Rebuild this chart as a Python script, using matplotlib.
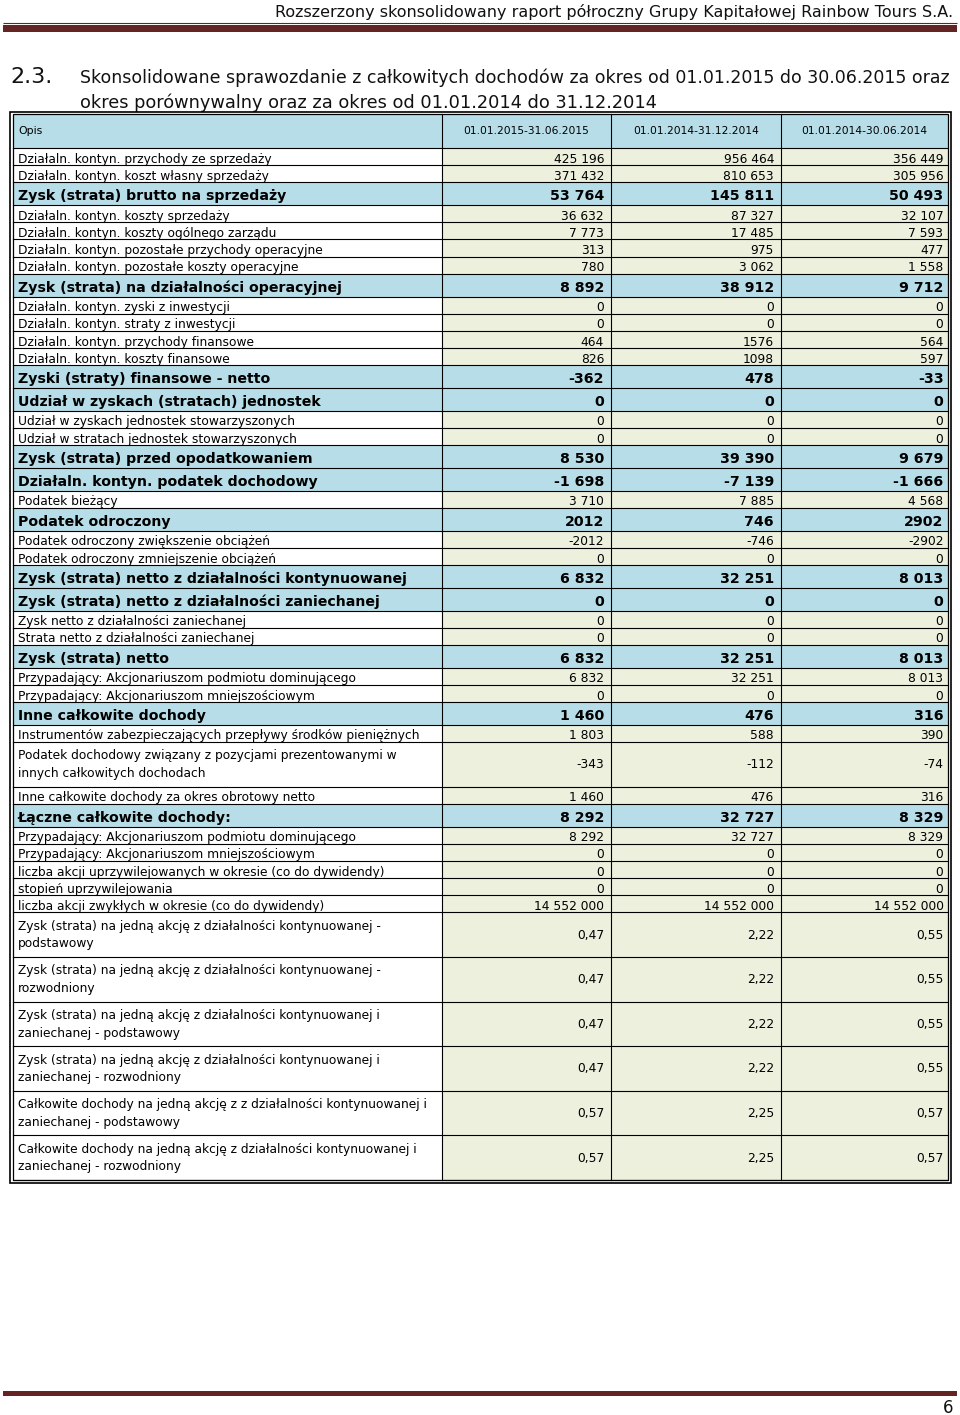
import matplotlib
matplotlib.use("Agg")
import matplotlib.pyplot as plt
from matplotlib.patches import Rectangle

# --- data ---
header_note = "Rozszerzony skonsolidowany raport półroczny Grupy Kapitałowej Rainbow Tours S.A."
section_no = "2.3."
title_lines = ["Skonsolidowane sprawozdanie z całkowitych dochodów za okres od 01.01.2015 do 30.06.2015 oraz",
               "okres porównywalny oraz za okres od 01.01.2014 do 31.12.2014"]
page_no = "6"

col_header = ["Opis", "01.01.2015-31.06.2015", "01.01.2014-31.12.2014", "01.01.2014-30.06.2014"]

labels = [
    "Działaln. kontyn. przychody ze sprzedaży",
    "Działaln. kontyn. koszt własny sprzedaży",
    "Zysk (strata) brutto na sprzedaży",
    "Działaln. kontyn. koszty sprzedaży",
    "Działaln. kontyn. koszty ogólnego zarządu",
    "Działaln. kontyn. pozostałe przychody operacyjne",
    "Działaln. kontyn. pozostałe koszty operacyjne",
    "Zysk (strata) na działalności operacyjnej",
    "Działaln. kontyn. zyski z inwestycji",
    "Działaln. kontyn. straty z inwestycji",
    "Działaln. kontyn. przychody finansowe",
    "Działaln. kontyn. koszty finansowe",
    "Zyski (straty) finansowe - netto",
    "Udział w zyskach (stratach) jednostek",
    "Udział w zyskach jednostek stowarzyszonych",
    "Udział w stratach jednostek stowarzyszonych",
    "Zysk (strata) przed opodatkowaniem",
    "Działaln. kontyn. podatek dochodowy",
    "Podatek bieżący",
    "Podatek odroczony",
    "Podatek odroczony zwiększenie obciążeń",
    "Podatek odroczony zmniejszenie obciążeń",
    "Zysk (strata) netto z działalności kontynuowanej",
    "Zysk (strata) netto z działalności zaniechanej",
    "Zysk netto z działalności zaniechanej",
    "Strata netto z działalności zaniechanej",
    "Zysk (strata) netto",
    "Przypadający: Akcjonariuszom podmiotu dominującego",
    "Przypadający: Akcjonariuszom mniejszościowym",
    "Inne całkowite dochody",
    "Instrumentów zabezpieczających przepływy środków pieniężnych",
    "Podatek dochodowy związany z pozycjami prezentowanymi w\ninnych całkowitych dochodach",
    "Inne całkowite dochody za okres obrotowy netto",
    "Łączne całkowite dochody:",
    "Przypadający: Akcjonariuszom podmiotu dominującego",
    "Przypadający: Akcjonariuszom mniejszościowym",
    "liczba akcji uprzywilejowanych w okresie (co do dywidendy)",
    "stopień uprzywilejowania",
    "liczba akcji zwykłych w okresie (co do dywidendy)",
    "Zysk (strata) na jedną akcję z działalności kontynuowanej -\npodstawowy",
    "Zysk (strata) na jedną akcję z działalności kontynuowanej -\nrozwodniony",
    "Zysk (strata) na jedną akcję z działalności kontynuowanej i\nzaniechanej - podstawowy",
    "Zysk (strata) na jedną akcję z działalności kontynuowanej i\nzaniechanej - rozwodniony",
    "Całkowite dochody na jedną akcję z z działalności kontynuowanej i\nzaniechanej - podstawowy",
    "Całkowite dochody na jedną akcję z działalności kontynuowanej i\nzaniechanej - rozwodniony",
]

bold_rows = [3, 8, 13, 14, 17, 18, 20, 23, 24, 27, 30, 34]  # 1-based

h1_2015 = ["425 196", "371 432", "53 764", "36 632", "7 773", "313", "780", "8 892",
           "0", "0", "464", "826", "-362", "0", "0", "0", "8 530", "-1 698",
           "3 710", "2012", "-2012", "0", "6 832", "0", "0", "0", "6 832", "6 832", "0",
           "1 460", "1 803", "-343", "1 460", "8 292", "8 292", "0", "0", "0", "14 552 000",
           "0,47", "0,47", "0,47", "0,47", "0,57", "0,57"]
y_2014 = ["956 464", "810 653", "145 811", "87 327", "17 485", "975", "3 062", "38 912",
          "0", "0", "1576", "1098", "478", "0", "0", "0", "39 390", "-7 139",
          "7 885", "746", "-746", "0", "32 251", "0", "0", "0", "32 251", "32 251", "0",
          "476", "588", "-112", "476", "32 727", "32 727", "0", "0", "0", "14 552 000",
          "2,22", "2,22", "2,22", "2,22", "2,25", "2,25"]
h1_2014 = ["356 449", "305 956", "50 493", "32 107", "7 593", "477", "1 558", "9 712",
           "0", "0", "564", "597", "-33", "0", "0", "0", "9 679", "-1 666",
           "4 568", "2902", "-2902", "0", "8 013", "0", "0", "0", "8 013", "8 013", "0",
           "316", "390", "-74", "316", "8 329", "8 329", "0", "0", "0", "14 552 000",
           "0,55", "0,55", "0,55", "0,55", "0,57", "0,57"]

# --- style / layout ---
BLUE = "#b7dee8"
GREEN = "#ecf0dd"
MAROON = "#632523"
NARROW = ["Liberation Sans Narrow", "DejaVu Sans"]
TABLE_FONT = ["DejaVu Sans"]
fs_norm = 8.8
fs_bold = 10.2

W, H = 960, 1415
col_x = [12.5, 442, 611, 781, 947.5]
top_y, head_h = 114, 34
h_norm, h_bold, h_two = 17.16, 22.8, 44.6

fig = plt.figure(figsize=(W / 100, H / 100), dpi=100)
ax = fig.add_axes([0, 0, 1, 1])
ax.set_xlim(0, W)
ax.set_ylim(H, 0)
ax.axis("off")


def fit_text(x, y, s, width, ha="left", **kw):
    t = ax.text(x, y, s, ha=ha, va="baseline", fontsize=10, family=NARROW, **kw)
    fig.canvas.draw()
    ext = t.get_window_extent()
    t.set_fontsize(10 * width / ext.width)
    return t


# page header
fit_text(953, 17, header_note, 678, ha="right", color="#111111")
ax.plot([3, 957], [23, 23], color=MAROON, lw=0.8, solid_capstyle="butt")
ax.fill_between([3, 957], 25, 32, color=MAROON, lw=0)

# section title
fit_text(10, 83, section_no, 42, color="#111111")
fit_text(80, 83, title_lines[0], 870, color="#111111")
fit_text(80, 108, title_lines[1], 575, color="#111111")

# header row
ax.add_patch(Rectangle((col_x[0], top_y), col_x[-1] - col_x[0], head_h, color=BLUE, lw=0))
ax.text(18, top_y + head_h / 2, col_header[0], ha="left", va="center", fontsize=7.8, family=NARROW)
for j in range(3):
    ax.text((col_x[j + 1] + col_x[j + 2]) / 2, top_y + head_h / 2, col_header[j + 1],
            ha="center", va="center", fontsize=7.65, family=NARROW)

# body rows
cols = [h1_2015, y_2014, h1_2014]
y = top_y + head_h
edges = [y]
for i, lab in enumerate(labels):
    is_bold = (i + 1) in bold_rows
    two = "\n" in lab
    h = h_two if two else (h_bold if is_bold else h_norm)
    bg_l = BLUE if is_bold else "white"
    bg_v = BLUE if is_bold else GREEN
    ax.add_patch(Rectangle((col_x[0], y), col_x[1] - col_x[0], h, color=bg_l, lw=0, zorder=1))
    ax.add_patch(Rectangle((col_x[1], y), col_x[-1] - col_x[1], h, color=bg_v, lw=0, zorder=1))
    fs = fs_bold if is_bold else fs_norm
    fw = "bold" if is_bold else "normal"
    if two:
        l1, l2 = lab.split("\n")
        ax.text(18, y + 17.5, l1, fontsize=fs, family=TABLE_FONT, va="baseline", zorder=3)
        ax.text(18, y + 35, l2, fontsize=fs, family=TABLE_FONT, va="baseline", zorder=3)
        vy = y + h / 2 + 4
    else:
        by = y + h - (5 if is_bold else 2.5)
        ax.text(18, by, lab, fontsize=fs, fontweight=fw, family=TABLE_FONT, va="baseline", zorder=3)
        vy = by
    for j in range(3):
        ax.text(col_x[j + 2] - 7 if j < 2 else col_x[-1] - 4, vy, cols[j][i], ha="right", va="baseline",
                fontsize=fs, fontweight=fw, family=TABLE_FONT, zorder=3)
    y += h
    edges.append(y)

# grid
for e in edges:
    ax.plot([col_x[0], col_x[-1]], [e, e], color="black", lw=0.8, zorder=2)
for cx in col_x[1:4]:
    ax.plot([cx, cx], [top_y, edges[-1]], color="black", lw=0.8, zorder=2)
# double outer border
ax.add_patch(Rectangle((col_x[0], top_y), col_x[-1] - col_x[0], edges[-1] - top_y,
                       fill=False, ec="black", lw=0.9, zorder=4))
ax.add_patch(Rectangle((col_x[0] - 3, top_y - 2.5), col_x[-1] - col_x[0] + 6, edges[-1] - top_y + 5.5,
                       fill=False, ec="black", lw=1.2, zorder=4))

# page footer
ax.fill_between([3, 957], 1390.5, 1396, color=MAROON, lw=0)
ax.text(953, 1413, page_no, ha="right", va="baseline", fontsize=12, family=NARROW, color="#111111")

fig.savefig("out.png", dpi=100)
